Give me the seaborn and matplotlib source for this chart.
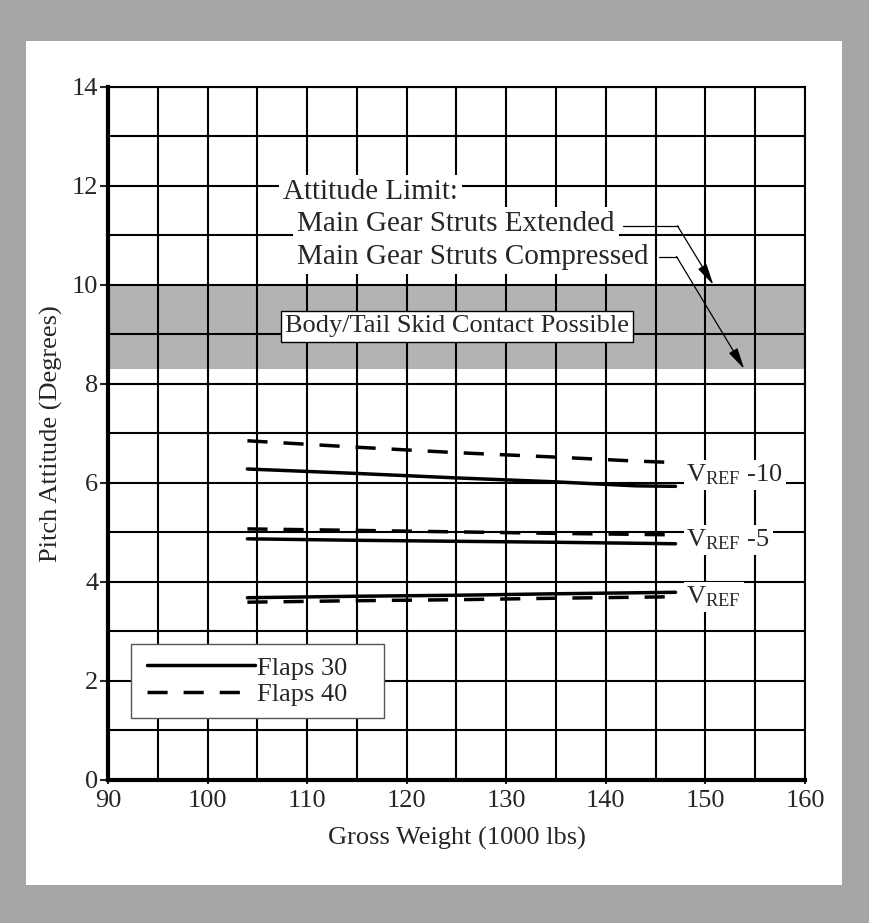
import matplotlib
matplotlib.use("Agg")
import matplotlib.pyplot as plt
from matplotlib.patches import Rectangle
from matplotlib.lines import Line2D
import numpy as np
import pandas as pd
import seaborn as sns

# values
weights = [104, 115, 125, 135, 143, 147]          # gross weight, 1000 lbs
flaps30_vref10 = [6.28, 6.19, 6.10, 6.02, 5.94, 5.93]
flaps40_vref10 = [6.85, 6.72, 6.61, 6.52, 6.44, 6.41]
flaps30_vref5 = [4.87, 4.84, 4.82, 4.80, 4.78, 4.77]
flaps40_vref5 = [5.07, 5.04, 5.01, 4.98, 4.96, 4.95]
flaps30_vref = [3.68, 3.71, 3.73, 3.76, 3.78, 3.79]
flaps40_vref = [3.59, 3.62, 3.64, 3.67, 3.69, 3.70]

speed_labels = ["V$_{\\mathrm{REF}}$ -10", "V$_{\\mathrm{REF}}$ -5", "V$_{\\mathrm{REF}}$"]
label_y = [6.16, 4.85, 3.70]
tail_band = (8.3, 10.0)      # body/tail skid contact possible
limit_extended = 10.0
limit_compressed = 8.3

sns.set_style("white")
plt.rcParams["font.family"] = ["Liberation Serif", "DejaVu Serif"]
plt.rcParams["mathtext.fontset"] = "custom"
plt.rcParams["mathtext.rm"] = "Liberation Serif"
plt.rcParams["mathtext.it"] = "Liberation Serif:italic"
FS = 19
FS_NOTE = 21

rows = []
series = [
    ("Flaps 30", "-10", flaps30_vref10), ("Flaps 40", "-10", flaps40_vref10),
    ("Flaps 30", "-5", flaps30_vref5), ("Flaps 40", "-5", flaps40_vref5),
    ("Flaps 30", "0", flaps30_vref), ("Flaps 40", "0", flaps40_vref),
]
for flaps, spd, vals in series:
    for w, v in zip(weights, vals):
        rows.append({"weight": w, "pitch": v, "flaps": flaps, "curve": flaps + spd})
df = pd.DataFrame(rows)

DASH = (5.8, 4.6)

fig = plt.figure(figsize=(8.69, 9.23), dpi=100, facecolor="#a6a6a6")
fig.add_artist(Rectangle((0.0299, 0.0412), 0.9390, 0.9144, transform=fig.transFigure,
                         facecolor="white", edgecolor="none", zorder=-5))
ax = fig.add_axes([0.1243, 0.155, 0.802, 0.751])
ax.set_zorder(1)
ax.set_facecolor("white")

ax.axhspan(tail_band[0], tail_band[1], color="#b3b3b3", lw=0, zorder=0.1)

sns.lineplot(data=df, x="weight", y="pitch", units="curve", style="flaps", estimator=None,
             dashes={"Flaps 30": "", "Flaps 40": DASH}, color="black", lw=2.5,
             legend=False, ax=ax, zorder=2)

ax.set_xlim(90, 160)
ax.set_ylim(0, 14)
ax.set_xticks(np.arange(90, 161, 10))
ax.set_xticks(np.arange(95, 160, 10), minor=True)
ax.set_yticks(np.arange(0, 15, 2))
ax.set_yticks(np.arange(1, 14, 2), minor=True)
ax.set_axisbelow(True)
ax.grid(which="both", color="black", lw=1.5)
ax.tick_params(axis="x", which="major", direction="out", length=3, width=1.5, pad=4,
               labelsize=FS, bottom=True)
ax.tick_params(axis="y", which="major", direction="out", length=5.5, width=1.5, pad=1.5,
               labelsize=FS, left=True)
ax.tick_params(which="minor", length=0)
for side in ["top", "right"]:
    ax.spines[side].set_linewidth(1.5)
for side in ["left", "bottom"]:
    ax.spines[side].set_linewidth(3)
for s in ax.spines.values():
    s.set_color("black")
    s.set_zorder(2.5)

ax.set_xlabel("Gross Weight (1000 lbs)", fontsize=FS, labelpad=11)
ax.set_ylabel("Pitch Attitude (Degrees)", fontsize=FS, labelpad=6)

white_box = dict(facecolor="white", edgecolor="none", pad=3)
ax.text(107.6, 11.88, "Attitude Limit:", fontsize=FS_NOTE, ha="left", va="center",
        bbox=white_box, zorder=3)
ax.text(109.0, 11.23, "Main Gear Struts Extended", fontsize=FS_NOTE, ha="left", va="center",
        bbox=white_box, zorder=3)
ax.text(109.0, 10.57, "Main Gear Struts Compressed", fontsize=FS_NOTE, ha="left", va="center",
        bbox=white_box, zorder=3)
ax.text(125.05, 9.16, "Body/Tail Skid Contact Possible", fontsize=FS, ha="center", va="center",
        bbox=dict(facecolor="white", edgecolor="black", lw=1, pad=3), zorder=3)

# leader lines to the attitude limits
arrow_kw = dict(arrowstyle="-|>,head_length=1.3,head_width=0.3", color="black",
                lw=0.9, shrinkA=0, shrinkB=0)
ax.plot([141.7, 147.2], [11.19, 11.19], color="black", lw=0.9, zorder=3)
ax.annotate("", xy=(150.8, limit_extended), xytext=(147.2, 11.19),
            arrowprops=arrow_kw, zorder=3)
ax.plot([145.3, 147.1], [10.57, 10.57], color="black", lw=0.9, zorder=3)
ax.annotate("", xy=(153.9, limit_compressed), xytext=(147.1, 10.57),
            arrowprops=arrow_kw, zorder=3)

for lab, yv in zip(speed_labels, label_y):
    ax.text(148.1, yv, lab, fontsize=FS, ha="left", va="center",
            bbox=dict(facecolor="white", edgecolor="none", pad=2), zorder=3)

# legend
ax.add_patch(Rectangle((0.033, 0.089), 0.363, 0.107, transform=ax.transAxes,
                       facecolor="white", edgecolor="#555555", lw=1, zorder=3))
handles = [Line2D([], [], color="black", lw=2.5),
           Line2D([], [], color="black", lw=2.5, dashes=DASH)]
leg = ax.legend(handles, ["Flaps 30", "Flaps 40"], loc="upper left",
                bbox_to_anchor=(0.045, 0.19), borderaxespad=0, frameon=False,
                fontsize=FS, handlelength=4.1, handletextpad=0.05, labelspacing=0.11,
                borderpad=0.3)
leg.set_zorder(4)

fig.savefig("out.png", dpi=100, facecolor=fig.get_facecolor())
